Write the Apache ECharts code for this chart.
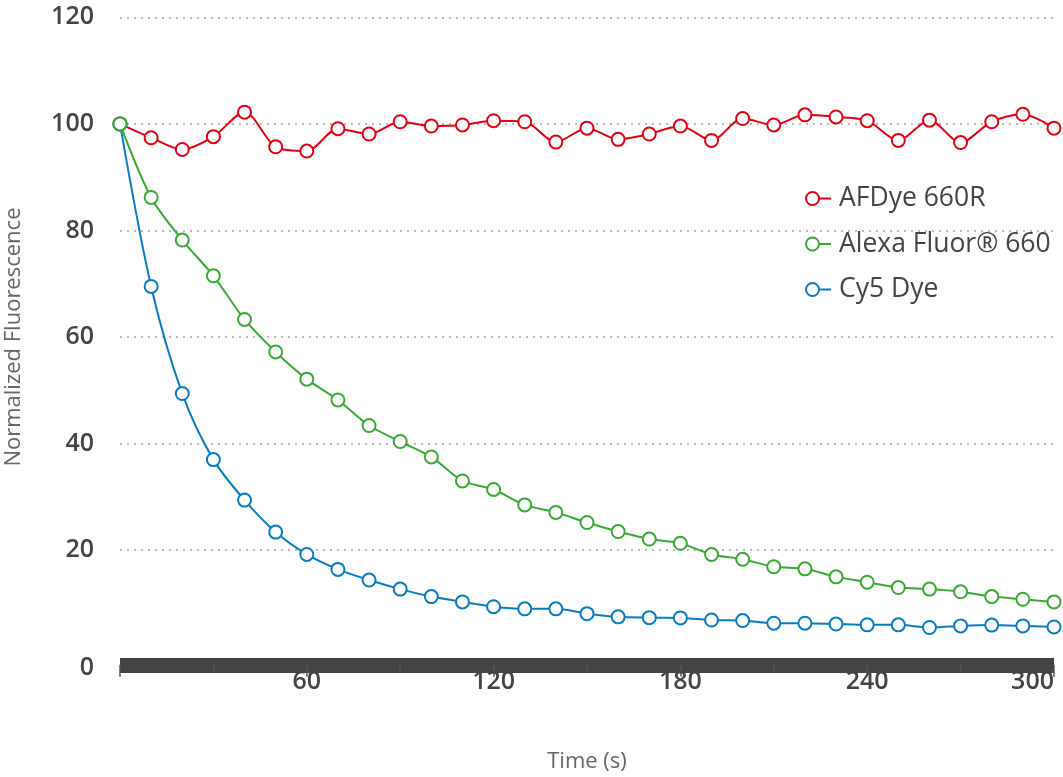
<!DOCTYPE html>
<html>
<head>
<meta charset="utf-8">
<script src="https://cdn.jsdelivr.net/npm/echarts@6/dist/echarts.min.js"></script>
<style>
html,body{margin:0;padding:0;background:#fff;}
#chart{width:1063px;height:777px;}
</style>
</head>
<body>
<div id="chart"></div>
<script>
const times = [0,10,20,30,40,50,60,70,80,90,100,110,120,130,140,150,160,170,180,190,200,210,220,230,240,250,260,270,280,290,300];
const seriesNames = ['AFDye 660R', 'Alexa Fluor® 660', 'Cy5 Dye'];
const afdye660r = [100,97.4,95.2,97.6,102.2,95.7,94.9,99.1,98.1,100.4,99.6,99.8,100.6,100.4,96.6,99.2,97.1,98.1,99.6,96.9,101.0,99.8,101.7,101.3,100.6,96.9,100.7,96.5,100.4,101.8,99.2];
const alexa660 = [100,86.2,78.2,71.5,63.3,57.2,52.1,48.2,43.4,40.4,37.5,33.0,31.4,28.5,27.1,25.2,23.5,22.1,21.3,19.2,18.3,16.9,16.5,15.0,14.0,13.0,12.7,12.2,11.3,10.8,10.3];
const cy5 = [100,69.5,49.4,37.0,29.4,23.4,19.2,16.4,14.4,12.7,11.3,10.3,9.4,9.0,9.0,8.1,7.5,7.35,7.3,6.9,6.8,6.3,6.3,6.15,6.0,6.0,5.5,5.8,5.95,5.8,5.6];
const yTicks = [0,20,40,60,80,100,120];
const xTicks = [0,60,120,180,240,300];
const colors = ['#e60012', '#3aaa35', '#0a7cc4'];

const iconPath = 'path://M0,7.5A7.5,7.5,0,1,1,15,7.5A7.5,7.5,0,1,1,0,7.5Z M2,7.5A5.5,5.5,0,1,0,13,7.5A5.5,5.5,0,1,0,2,7.5Z M14.5,6.5L26,6.5L26,8.5L14.5,8.5Z';

function pairs(arr){ return times.map((t,i)=>[t,arr[i]]); }
const dataSets = [afdye660r, alexa660, cy5];
const zs = [2, 4, 3];

const chart = echarts.init(document.getElementById('chart'), null, {renderer:'canvas'});
chart.setOption({
  animation: false,
  backgroundColor: '#fff',
  grid: {left: 120, right: 9, top: 17.3, bottom: 120.2, containLabel: false, outerBoundsMode: 'none'},
  legend: {
    orient: 'vertical',
    left: 800,
    top: 180,
    itemWidth: 26,
    itemHeight: 15,
    itemGap: 18.5,
    icon: iconPath,
    textStyle: {fontFamily: 'Open Sans', fontSize: 26.5, color: '#444', padding: [0,0,0,3]},
    data: seriesNames.map((n,i)=>({name: n, itemStyle: {color: colors[i], borderWidth: 0}}))
  },
  xAxis: {
    type: 'value',
    min: xTicks[0], max: xTicks[xTicks.length-1], interval: 60,
    offset: 8,
    name: 'Time (s)',
    nameLocation: 'middle',
    nameGap: 86,
    nameMoveOverlap: false,
    nameTextStyle: {fontFamily: 'Open Sans', fontSize: 22, color: '#666'},
    axisLine: {show: true, onZero: false, lineStyle: {color: '#444', width: 15, cap: 'butt'}},
    axisTick: {show: true, length: 12, lineStyle: {color: '#555', width: 1.5}},
    minorTick: {show: true, splitNumber: 2, length: 7, lineStyle: {color: '#555', width: 1.5}},
    axisLabel: {showMinLabel: false, alignMaxLabel: 'right', margin: 5, fontFamily: 'Open Sans', fontWeight: 600, fontSize: 25, color: '#444'},
    splitLine: {show: false}
  },
  yAxis: {
    type: 'value',
    min: yTicks[0], max: yTicks[yTicks.length-1], interval: 20,
    name: 'Normalized Fluorescence',
    nameLocation: 'middle',
    nameGap: 95,
    nameMoveOverlap: false,
    nameRotate: 90,
    nameTextStyle: {fontFamily: 'Open Sans', fontSize: 22, color: '#666'},
    axisLine: {show: false},
    axisTick: {show: false},
    axisLabel: {
      margin: 26, fontFamily: 'Open Sans', fontWeight: 600, fontSize: 25, color: '#444',
      formatter: v => v === 0 ? '{z|0}' : String(v),
      rich: {z: {fontFamily: 'Open Sans', fontWeight: 600, fontSize: 25, color: '#444', padding: [23,0,0,0]}}
    },
    splitLine: {show: true, showMinLine: false, lineStyle: {color: '#bbb', width: 2, type: [2, 5]}}
  },
  series: seriesNames.map((n,i)=>({
    name: n,
    type: 'line',
    data: pairs(dataSets[i]),
    smooth: 0.3,
    z: zs[i],
    symbol: 'emptyCircle',
    symbolSize: 13,
    showAllSymbol: true,
    color: colors[i],
    lineStyle: {color: colors[i], width: 2},
    itemStyle: {color: colors[i], borderColor: colors[i], borderWidth: 2}
  }))
});
</script>
</body>
</html>
